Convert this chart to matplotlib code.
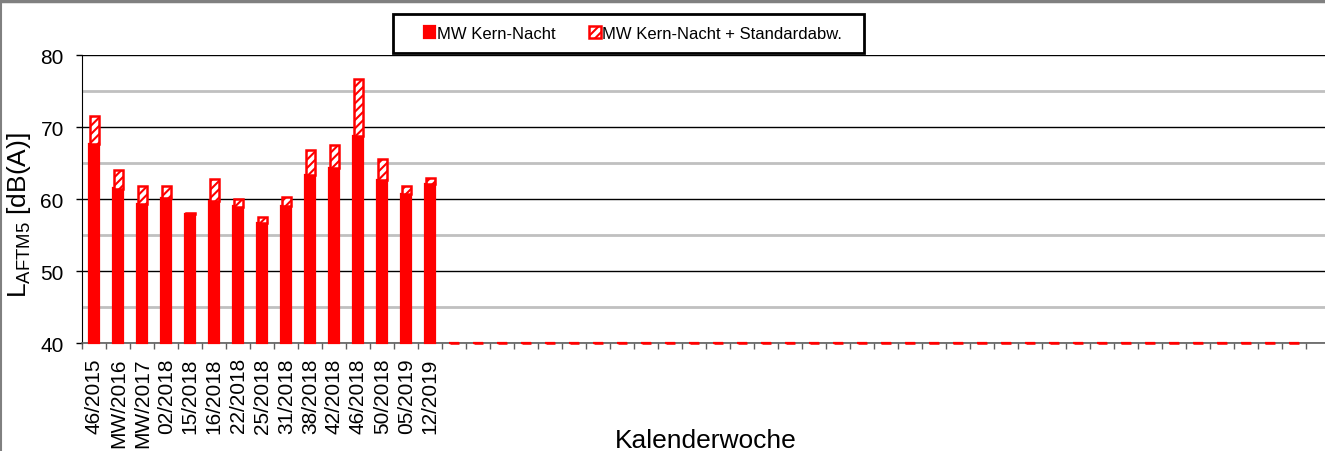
import numpy as np
import matplotlib
matplotlib.use('Agg')
import matplotlib.pyplot as plt
from matplotlib.lines import Line2D
from matplotlib.patches import Rectangle

plt.rcParams['font.family'] = ['Liberation Sans', 'DejaVu Sans']
plt.rcParams['mathtext.fontset'] = 'custom'
plt.rcParams['mathtext.rm'] = 'Liberation Sans'
plt.rcParams['hatch.linewidth'] = 1.5

# data (dB(A)); empty weeks have no value (0)
wochen = ['46/2015', 'MW/2016', 'MW/2017', '02/2018', '15/2018', '16/2018',
          '22/2018', '25/2018', '31/2018', '38/2018', '42/2018', '46/2018',
          '50/2018', '05/2019', '12/2019'] + [''] * 36
kern_nacht = [67.7, 61.5, 59.4, 60.2, 57.9, 59.8, 59.0, 56.7, 59.1, 63.4,
              64.3, 68.8, 62.7, 60.8, 62.1] + [0] * 36
kern_plus_std = [71.6, 64.1, 61.8, 61.9, 58.1, 62.8, 60.1, 57.6, 60.3, 66.8,
                 67.5, 76.7, 65.6, 61.8, 63.0] + [0] * 36

W, H = 1325, 452
fig = plt.figure(figsize=(W / 100, H / 100), dpi=100)
ax = fig.add_axes([82.3 / W, 1 - 344.3 / H, 1 - 82.3 / W, 288 / H])

x = np.arange(len(wochen))
basis = 40
kern = np.maximum(np.array(kern_nacht, float), basis)
oben = np.maximum(np.array(kern_plus_std, float), basis)

ax.bar(x, kern - basis, bottom=basis, width=0.42, color='#ff0000',
       edgecolor='#ff0000', linewidth=1.6, clip_on=False, zorder=3,
       label='MW Kern-Nacht')
ax.bar(x, oben - kern, bottom=kern, width=0.40, color='white',
       edgecolor='#ff0000', hatch='////', linewidth=1.8, clip_on=False,
       zorder=3, label='MW Kern-Nacht + Standardabw.')

ax.set_ylim(40, 80)
ax.set_xlim(-0.5, -0.5 + (W - 82.3) / 24)
ax.set_yticks([40, 50, 60, 70, 80])
ax.set_yticks([45, 55, 65, 75], minor=True)
ax.grid(axis='y', which='major', color='black', linewidth=1, zorder=1)
ax.grid(axis='y', which='minor', color='#c0c0c0', linewidth=2, zorder=1)
ax.set_axisbelow(True)
ax.tick_params(axis='y', which='major', length=4.3, width=1, labelsize=15,
               pad=9, color='black')
ax.tick_params(axis='y', which='minor', length=0)

ax.set_xticks(x)
ax.set_xticklabels(wochen, rotation=90, fontsize=15)
ax.set_xticks(np.arange(len(wochen) + 1) - 0.5, minor=True)
ax.tick_params(axis='x', which='major', length=0, pad=10)
ax.tick_params(axis='x', which='minor', length=4.3, width=1, color='#606060')

for s in ['top', 'right']:
    ax.spines[s].set_visible(False)
ax.spines['left'].set_color('black')
ax.spines['bottom'].set_color('#606060')
ax.spines['bottom'].set_linewidth(1.2)

ax.set_ylabel(r'$\mathregular{L_{AFTM5}}$ [dB(A)]', fontsize=19)
ax.yaxis.set_label_coords(-0.04, 0.45)
fig.text(706 / W, 1 - 448 / H, 'Kalenderwoche', fontsize=19,
         ha='center', va='baseline')

# legend box drawn separately, entries centred inside it
fig.add_artist(Rectangle((393 / W, 1 - 53.7 / H), 471 / W, 38.7 / H,
                         transform=fig.transFigure, facecolor='white',
                         edgecolor='black', linewidth=2, zorder=4))
leg = fig.legend(loc='center', bbox_to_anchor=(633 / W, 1 - 34.4 / H),
                 ncol=2, fontsize=12, frameon=False,
                 handlelength=0.7, handleheight=0.7, handletextpad=0.1,
                 columnspacing=2.0, borderpad=0, borderaxespad=0)
leg.set_zorder(5)

fig.add_artist(Line2D([0, 1], [1 - 1.5 / H, 1 - 1.5 / H], color='#808080',
                      linewidth=2.5, transform=fig.transFigure))
fig.add_artist(Line2D([1 / W, 1 / W], [0, 1], color='#808080',
                      linewidth=1.5, transform=fig.transFigure))

fig.savefig('out.png', dpi=100)
